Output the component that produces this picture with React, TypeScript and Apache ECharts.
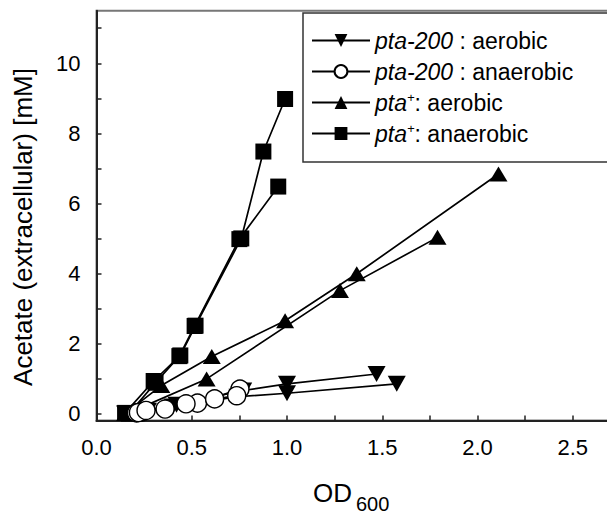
import { useEffect, useRef } from "react";
import * as echarts from "echarts";

// ---- axis ticks / labels ----
const xTickValues = [0, 0.25, 0.5, 0.75, 1, 1.25, 1.5, 1.75, 2, 2.25, 2.5, 2.75];
const xLabelValues = [0, 0.5, 1, 1.5, 2, 2.5];
const yTickValues = [0, 1, 2, 3, 4, 5, 6, 7, 8, 9, 10, 11];
const yLabelValues = [0, 2, 4, 6, 8, 10];

// ---- series names ----
const nameP200Aer = "pta-200: aerobic";
const nameP200Ana = "pta-200: anaerobic";
const namePlusAer = "pta+: aerobic";
const namePlusAna = "pta+: anaerobic";
const legendOrder = [nameP200Aer, nameP200Ana, namePlusAer, namePlusAna];

// ---- data [OD600, acetate mM], two replicate cultures per condition ----
const p200AerobicA = [[0.15, 0.0], [0.27, 0.08], [0.42, 0.25], [0.77, 0.66], [1.0, 0.85], [1.47, 1.13]];
const p200AerobicB = [[0.16, 0.02], [0.25, 0.05], [0.4, 0.2], [0.74, 0.48], [1.0, 0.58], [1.576, 0.85]];
const p200AnaerobicA = [[0.21, 0.02], [0.24, 0.05], [0.36, 0.13], [0.53, 0.3], [0.753, 0.7]];
const p200AnaerobicB = [[0.22, 0.03], [0.26, 0.09], [0.47, 0.28], [0.62, 0.42], [0.736, 0.51]];
const plusAerobicA = [[0.15, 0.0], [0.34, 0.8], [0.605, 1.63], [0.99, 2.65], [1.366, 3.99], [2.11, 6.84]];
const plusAerobicB = [[0.17, 0.02], [0.578, 0.99], [1.278, 3.51], [1.79, 5.03]];
const plusAnaerobicA = [[0.15, 0.02], [0.3, 0.93], [0.44, 1.66], [0.52, 2.51], [0.76, 5.0], [0.876, 7.48], [0.99, 8.98]];
const plusAnaerobicB = [[0.17, 0.0], [0.31, 0.88], [0.435, 1.64], [0.515, 2.5], [0.75, 4.98], [0.954, 6.48]];

const FONT = "'Liberation Sans', Arial, Helvetica, sans-serif";

const legendText: Record<string, string> = {
  [nameP200Aer]: "{i|pta-200} : aerobic",
  [nameP200Ana]: "{i|pta-200} : anaerobic",
  [namePlusAer]: "{i|pta}{s|+}: aerobic",
  [namePlusAna]: "{i|pta}{s|+}: anaerobic",
};

function lineSeries(name: string, data: number[][], kind: string) {
  const base: any = {
    type: "line",
    name,
    data,
    showSymbol: true,
    lineStyle: { color: "#000", width: 1.7 },
    emphasis: { disabled: true },
    silent: true,
  };
  if (kind === "down") {
    base.symbol = "triangle";
    base.symbolRotate = 180;
    base.symbolSize = [18, 16];
    base.itemStyle = { color: "#000" };
    base.z = 2;
  } else if (kind === "circle") {
    base.symbol = "circle";
    base.symbolSize = 18;
    base.itemStyle = { color: "#fff", borderColor: "#000", borderWidth: 1.4 };
    base.z = 5;
  } else if (kind === "up") {
    base.symbol = "triangle";
    base.symbolSize = [18, 15];
    base.itemStyle = { color: "#000" };
    base.z = 3;
  } else {
    base.symbol = "rect";
    base.symbolSize = 16;
    base.itemStyle = { color: "#000" };
    base.z = 4;
  }
  return base;
}

export default function App() {
  const ref = useRef<HTMLDivElement>(null);
  useEffect(() => {
    if (!ref.current) return;
    const chart = echarts.init(ref.current, null, { renderer: "svg" });
    chart.setOption({
      animation: false,
      backgroundColor: "#fff",
      grid: {
        left: 96.5,
        top: 10.7,
        width: 523.9,
        height: 409.9,
        show: true,
        borderColor: "#777",
        borderWidth: 2,
        backgroundColor: "transparent",
      },
      xAxis: {
        type: "value",
        min: 0,
        max: 2.75,
        splitLine: { show: false },
        axisLine: { show: true, onZero: false, lineStyle: { color: "#222", width: 2 } },
        axisTick: { show: true, inside: true, length: 5, customValues: xTickValues, lineStyle: { color: "#222", width: 1.5 } },
        axisLabel: {
          customValues: xLabelValues,
          formatter: (v: number) => v.toFixed(1),
          fontSize: 22,
          fontFamily: FONT,
          color: "#000",
          margin: 16,
        },
      },
      yAxis: {
        type: "value",
        min: -0.2,
        max: 11.5,
        splitLine: { show: false },
        axisLine: { show: true, onZero: false, lineStyle: { color: "#222", width: 2 } },
        axisTick: { show: true, inside: true, length: 5, customValues: yTickValues, lineStyle: { color: "#222", width: 1.5 } },
        axisLabel: {
          customValues: yLabelValues,
          formatter: (v: number) => String(v),
          fontSize: 22,
          fontFamily: FONT,
          color: "#000",
          margin: 16,
        },
      },
      legend: {
        show: true,
        orient: "vertical",
        left: 303,
        top: 13,
        data: legendOrder,
        itemWidth: 58,
        itemHeight: 16,
        itemGap: 8,
        itemTextGap: 16,
        padding: [16, 60, 17, 8],
        borderColor: "#333",
        borderWidth: 1.5,
        backgroundColor: "#fff",
        selectedMode: false,
        formatter: (n: string) => legendText[n] || n,
        textStyle: {
          fontSize: 23,
          fontFamily: FONT,
          color: "#000",
          rich: {
            i: { fontSize: 23, fontFamily: FONT, fontStyle: "italic", color: "#000" },
            s: { fontSize: 13, fontFamily: FONT, fontStyle: "italic", color: "#000", verticalAlign: "top" },
          },
        },
      },
      graphic: [
        {
          type: "text",
          x: 23,
          y: 227,
          rotation: Math.PI / 2,
          style: {
            text: "Acetate (extracellular) [mM]",
            fontSize: 26,
            fontFamily: FONT,
            fill: "#000",
            textAlign: "center",
            textVerticalAlign: "middle",
          },
        },
        {
          type: "text",
          x: 313,
          y: 492.5,
          style: {
            text: "OD",
            fontSize: 26,
            fontFamily: FONT,
            fill: "#000",
            textAlign: "left",
            textVerticalAlign: "middle",
          },
        },
        {
          type: "text",
          x: 356,
          y: 503.5,
          style: {
            text: "600",
            fontSize: 20,
            fontFamily: FONT,
            fill: "#000",
            textAlign: "left",
            textVerticalAlign: "middle",
          },
        },
      ],
      series: [
        lineSeries(nameP200Aer, p200AerobicA, "down"),
        lineSeries(nameP200Aer, p200AerobicB, "down"),
        lineSeries(namePlusAer, plusAerobicA, "up"),
        lineSeries(namePlusAer, plusAerobicB, "up"),
        lineSeries(namePlusAna, plusAnaerobicA, "square"),
        lineSeries(namePlusAna, plusAnaerobicB, "square"),
        lineSeries(nameP200Ana, p200AnaerobicA, "circle"),
        lineSeries(nameP200Ana, p200AnaerobicB, "circle"),
      ],
    });
    return () => chart.dispose();
  }, []);
  return (
    <div style={{ position: "fixed", left: 0, top: 0, width: 607, height: 515, overflow: "hidden", background: "#fff" }}>
      <div ref={ref} style={{ width: 640, height: 515 }} />
    </div>
  );
}
